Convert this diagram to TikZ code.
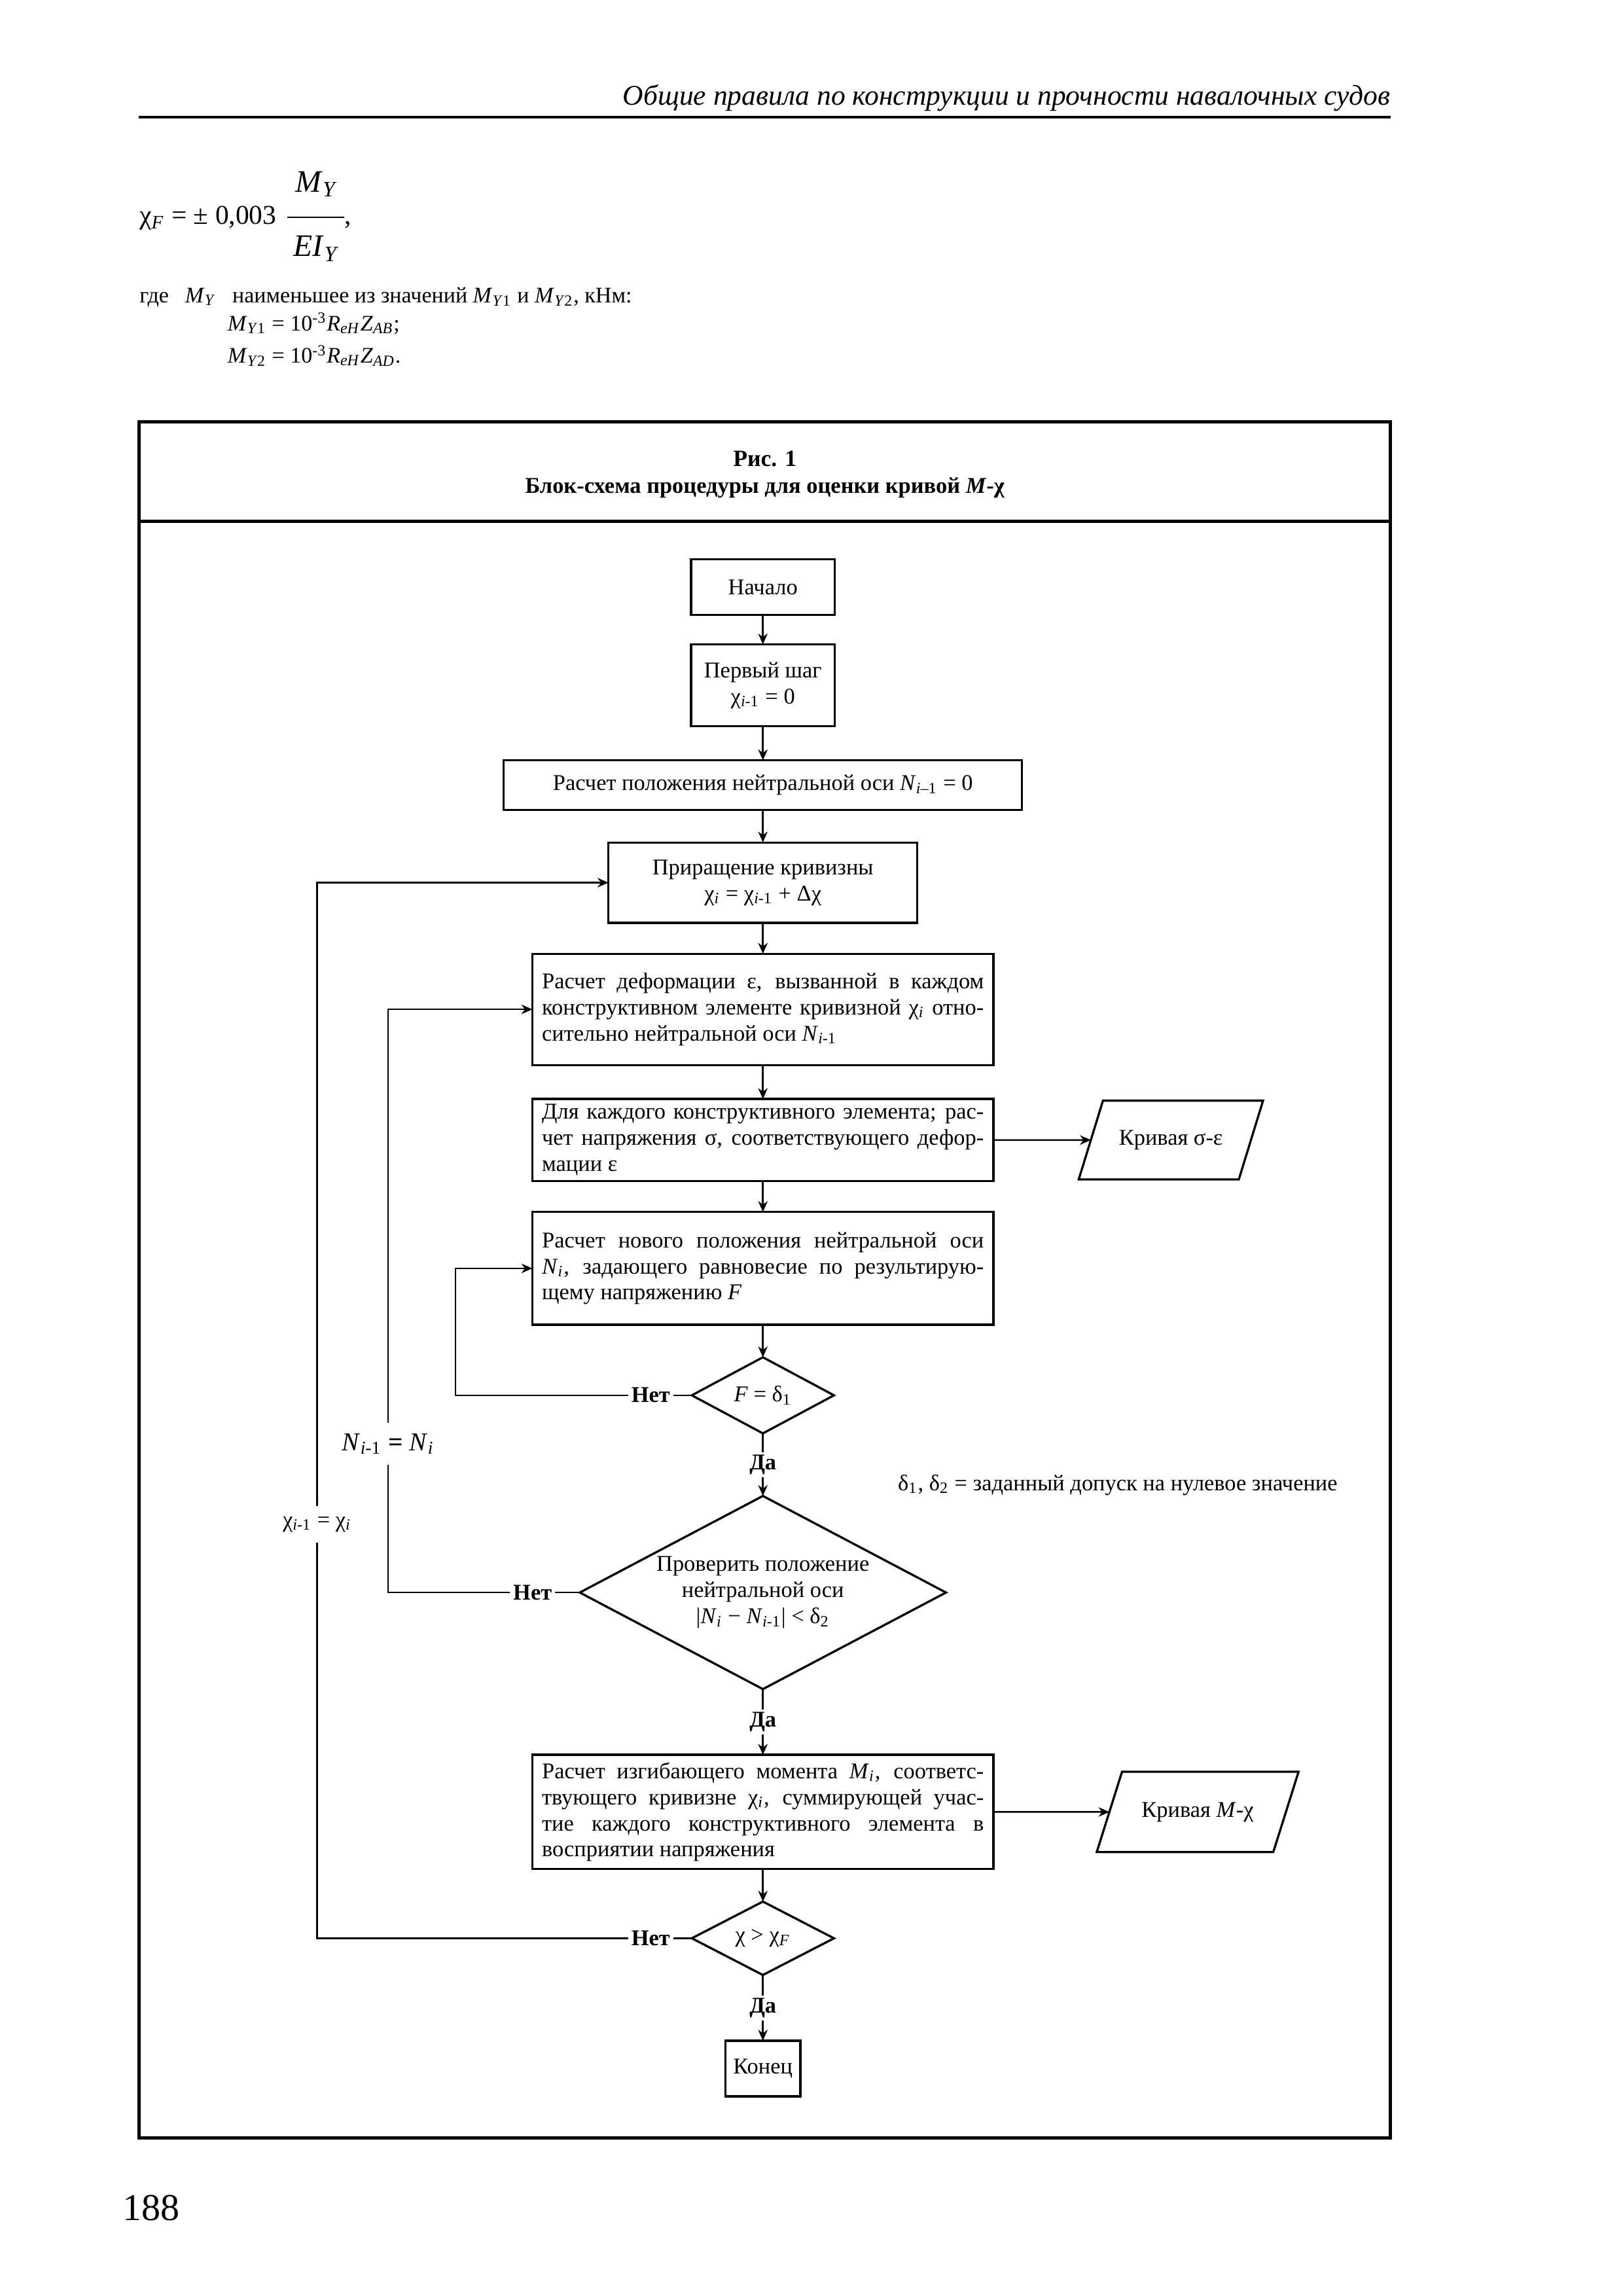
\documentclass[tikz,border=0pt]{standalone}
\usepackage{fontspec}
\setmainfont{Liberation Serif}
\usetikzlibrary{arrows.meta,positioning,shapes.geometric,calc}

\newcommand{\fsmall}{\fontsize{8.3}{9.6}\selectfont}
\newcommand{\fbody}{\fontsize{8.2}{10}\selectfont}

\begin{document}
\begin{tikzpicture}[
  node distance=0.40cm,
  font=\fsmall,
  box/.style={rectangle, draw, line width=0.8pt, align=center, inner sep=2pt, outer sep=0pt},
  wbox/.style={box, text width=5.72cm, align=justify, inner xsep=0.125cm},
  decision/.style={diamond, draw, line width=0.8pt, align=center, inner sep=0pt, outer sep=0pt, aspect=2},
  datacurve/.style={trapezium, trapezium left angle=60, trapezium right angle=120, trapezium stretches=true, draw, line width=0.8pt, outer sep=0pt, minimum height=1.02cm},
  tag/.style={font=\fsmall\bfseries, inner sep=1pt, fill=white},
  arrow/.style={-{Stealth[length=4pt,width=3.5pt]}, line width=0.6pt},
  link/.style={line width=0.6pt}
]
\useasboundingbox (0,0) rectangle (21,-29.717);

% page head
\node[anchor=base east, font=\fontsize{10.5}{12.5}\selectfont\itshape] (runhead) at (18.12,-1.36) {Общие правила по конструкции и прочности навалочных судов};
\draw[line width=1pt] (1.80,-1.516) -- (18.00,-1.516);

% formula
\node[anchor=base west, inner sep=0pt, font=\fontsize{10}{12}\selectfont] (chidef) at (1.80,-2.905) {χ\textsubscript{\textit{F}} = ± 0,003};
\node[anchor=base, inner sep=0pt, font=\fontsize{11.5}{13}\selectfont] (numer) at (4.10,-2.483) {\textit{M}\textsubscript{\textit{Y}}};
\node[anchor=base, inner sep=0pt, font=\fontsize{11.5}{13}\selectfont] (denom) at (4.10,-3.32) {\textit{EI}\textsubscript{\textit{Y}}};
\draw[line width=0.5pt] (3.715,-2.812) -- (4.454,-2.812);
\node[anchor=base west, inner sep=0pt, font=\fontsize{10}{12}\selectfont] (comma) at (4.45,-2.905) {,};

\node[anchor=base west, inner sep=0pt, font=\fbody] (where) at (1.80,-3.92) {где\hspace{6pt}\textit{M}\textsubscript{\textit{Y}}\hspace{6pt}наименьшее из значений \textit{M}\textsubscript{\textit{Y}1} и \textit{M}\textsubscript{\textit{Y}2}, кНм:};
\node[anchor=base west, inner sep=0pt, font=\fbody] (my1) at (2.94,-4.28) {\textit{M}\textsubscript{\textit{Y}1} = 10\textsuperscript{-3}\textit{R}\textsubscript{\textit{eH}}\textit{Z}\textsubscript{\textit{AB}};};
\node[anchor=base west, inner sep=0pt, font=\fbody] (my2) at (2.94,-4.70) {\textit{M}\textsubscript{\textit{Y}2} = 10\textsuperscript{-3}\textit{R}\textsubscript{\textit{eH}}\textit{Z}\textsubscript{\textit{AD}}.};

% frame
\draw[line width=1.2pt] (1.80,-5.46) rectangle (18.00,-27.67);
\draw[line width=1.2pt] (1.80,-6.75) -- (18.00,-6.75);
\node[font=\fontsize{8.6}{11}\selectfont\bfseries] (figno) at (9.90,-5.94) {Рис. 1};
\node[font=\fontsize{8.3}{11}\selectfont\bfseries] (figtitle) at (9.90,-6.31) {Блок-схема процедуры для оценки кривой \textit{M}-χ};

% main column
\node[box, minimum width=1.857cm, minimum height=0.72cm] (start) at (9.875,-7.60) {Начало};
\node[box, minimum width=1.857cm, minimum height=1.06cm, below=0.38cm of start] (first) {Первый шаг\\χ\textsubscript{\textit{i}-1} = 0};
\node[box, minimum width=6.71cm, minimum height=0.644cm, below=0.44cm of first] (nzero) {Расчет положения нейтральной оси \textit{N}\textsubscript{\textit{i}–1} = 0};
\node[box, minimum width=4.0cm, minimum height=1.04cm, below=0.42cm of nzero] (incr) {Приращение кривизны\\χ\textsubscript{\textit{i}} = χ\textsubscript{\textit{i}-1} + Δχ};
\node[wbox, minimum height=1.44cm, below=0.40cm of incr] (strain) {Расчет деформации ε, вызванной в каждом\linebreak конструктивном элементе кривизной χ\textsubscript{\textit{i}} отно-\linebreak сительно нейтральной оси \textit{N}\textsubscript{\textit{i}-1}};
\node[wbox, minimum height=1.04cm, below=0.44cm of strain] (stress) {Для каждого конструктивного элемента; рас-\linebreak чет напряжения σ, соответствующего дефор-\linebreak мации ε};
\node[wbox, minimum height=1.46cm, below=0.40cm of stress] (naxis) {Расчет нового положения нейтральной оси\linebreak \textit{N}\textsubscript{\textit{i}}, задающего равновесие по результирую-\linebreak щему напряжению \textit{F}};
\node[decision, minimum width=1.84cm, minimum height=0.985cm, below=0.42cm of naxis] (checkF) {\textit{F} = δ\textsubscript{1}};
\node[decision, minimum width=4.74cm, minimum height=2.5cm, below=0.81cm of checkF] (checkN) {Проверить положение\\нейтральной оси\\|\textit{N}\textsubscript{\textit{i}} − \textit{N}\textsubscript{\textit{i}-1}| < δ\textsubscript{2}};
\node[wbox, minimum height=1.48cm, below=0.85cm of checkN] (moment) {Расчет изгибающего момента \textit{M}\textsubscript{\textit{i}}, соответс-\linebreak твующего кривизне χ\textsubscript{\textit{i}}, суммирующей учас-\linebreak тие каждого конструктивного элемента в\linebreak восприятии напряжения};
\node[decision, minimum width=1.84cm, minimum height=0.95cm, below=0.42cm of moment] (checkX) {χ > χ\textsubscript{\textit{F}}};
\node[box, minimum width=0.97cm, minimum height=0.72cm, below=0.85cm of checkX] (finish) {Конец};

% outputs
\node[datacurve, minimum width=2.39cm, right=1.26cm of stress] (sigeps) {Кривая σ-ε};
\node[datacurve, minimum width=2.62cm, minimum height=1.04cm, right=1.50cm of moment] (mchi) {Кривая \textit{M}-χ};

\node[anchor=west] (tolnote) at (11.50,-19.22) {δ\textsubscript{1}, δ\textsubscript{2} = заданный допуск на нулевое значение};

% no-labels
\node[tag, left=0.24cm of checkF] (noF) {Нет};
\node[tag, left=0.32cm of checkN] (noN) {Нет};
\node[tag, left=0.24cm of checkX] (noX) {Нет};

\coordinate (xF) at (5.895,0);
\coordinate (xN) at (5.024,0);
\coordinate (xX) at (4.105,0);

\draw[arrow] (start) -- (first);
\draw[arrow] (first) -- (nzero);
\draw[arrow] (nzero) -- (incr);
\draw[arrow] (incr) -- (strain);
\draw[arrow] (strain) -- (stress);
\draw[arrow] (stress) -- (naxis);
\draw[arrow] (naxis) -- (checkF);
\draw[arrow] (checkF) -- node[tag]{Да} (checkN);
\draw[arrow] (checkN) -- node[tag]{Да} (moment);
\draw[arrow] (moment) -- (checkX);
\draw[arrow] (checkX) -- node[tag]{Да} (finish);

\draw[arrow] (stress) -- (sigeps);
\draw[arrow] (moment) -- (mchi);

\draw[link] (checkF) -- (noF);
\draw[link] (checkN) -- (noN);
\draw[link] (checkX) -- (noX);

% loops
\draw[arrow] (noF.west) -- (noF.west -| xF) -- (naxis.west -| xF) -- (naxis.west);
\draw[arrow] (noN.west) -- (noN.west -| xN) -- node[pos=0.255, fill=white, inner ysep=4pt, font=\fontsize{9.5}{11}\selectfont]{\textit{N}\textsubscript{\textit{i}-1} \textbf{=} \textit{N}\textsubscript{\textit{i}}} (strain.west -| xN) -- (strain.west);
\draw[arrow] (noX.west) -- (noX.west -| xX) -- node[pos=0.392, fill=white, inner ysep=4pt]{χ\textsubscript{\textit{i}-1} = χ\textsubscript{\textit{i}}} (incr.west -| xX) -- (incr.west);

\node[font=\fontsize{14}{16}\selectfont] (pageno) at (1.96,-28.58) {188};
\end{tikzpicture}
\end{document}
